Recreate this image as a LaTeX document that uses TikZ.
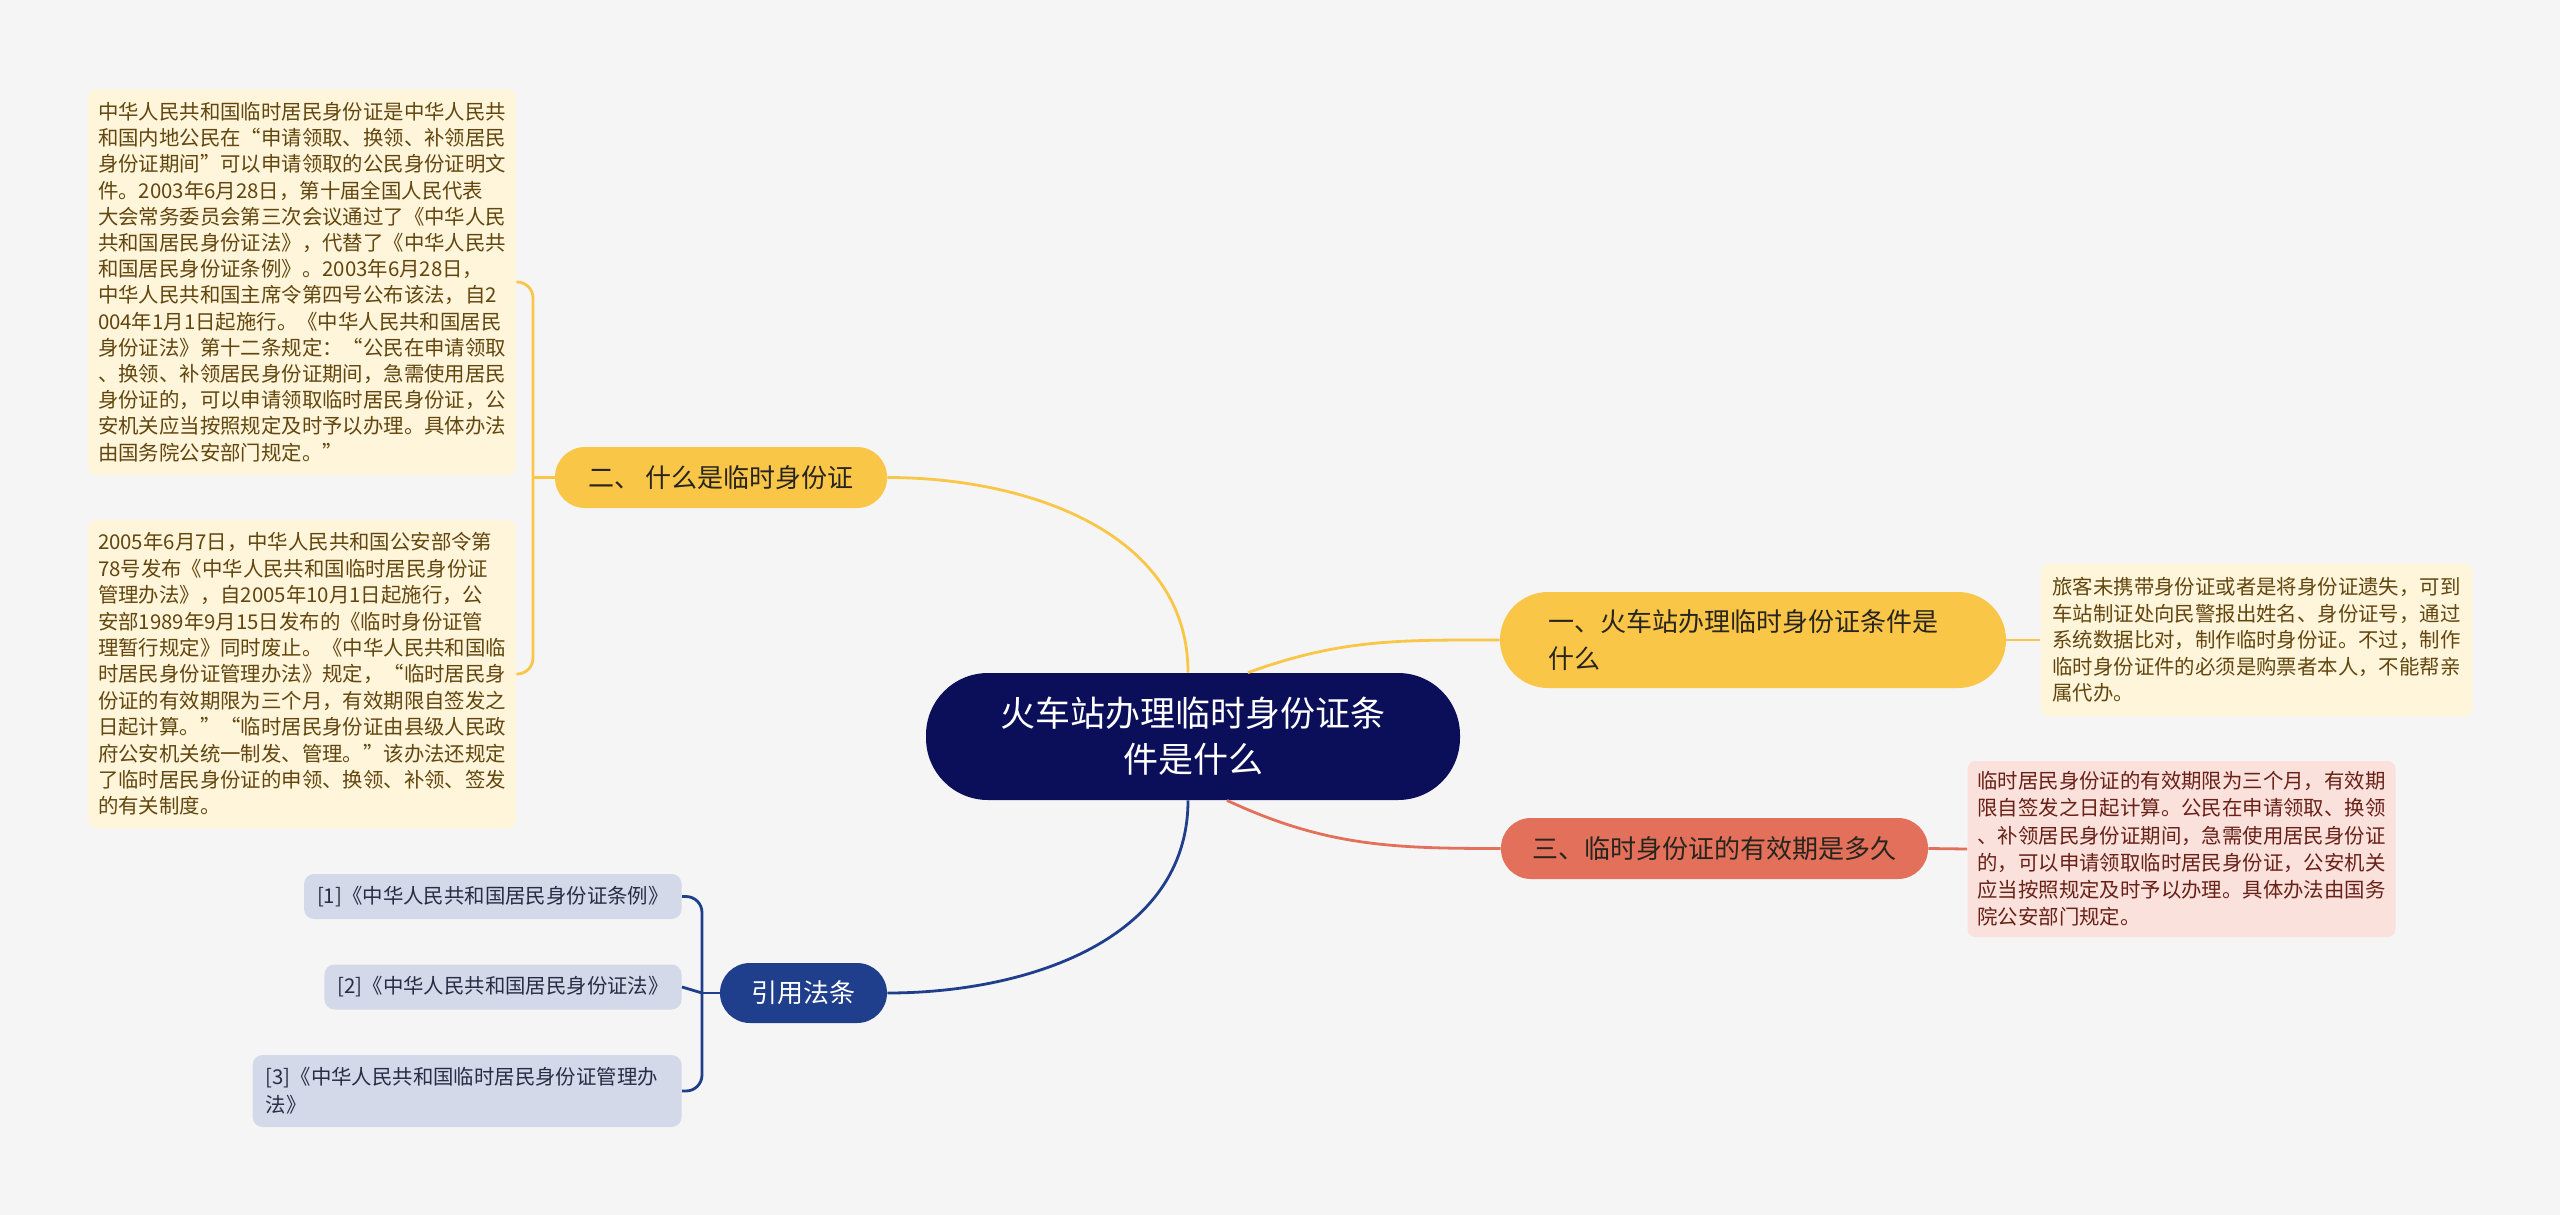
\documentclass[tikz,border=0pt]{standalone}
\usepackage{fontspec}
\newfontfamily\cjk{Noto Sans CJK SC}
\usepackage{tikz}
\definecolor{bggray}{RGB}{245,245,245}
\definecolor{rootnavy}{RGB}{11,15,90}
\definecolor{gold}{RGB}{249,198,72}
\definecolor{goldleaf}{RGB}{255,245,219}
\definecolor{goldtext}{RGB}{98,70,14}
\definecolor{coral}{RGB}{226,112,90}
\definecolor{coralleaf}{RGB}{250,225,220}
\definecolor{coraltext}{RGB}{105,32,22}
\definecolor{refblue}{RGB}{31,62,140}
\definecolor{refleaf}{RGB}{211,217,232}
\definecolor{reftext}{RGB}{40,45,70}
\definecolor{ink}{RGB}{40,36,30}

\begin{document}
\begin{tikzpicture}[
  x=0.5pt, y=-0.5pt,
  every node/.style={font=\cjk},
  topicbox/.style={fill=rootnavy, text=white, rounded corners=31pt, minimum width=267pt, minimum height=63.5pt, align=center, font=\cjk\fontsize{17.5}{23}\selectfont},
  branchbox/.style={rounded corners=15pt, minimum height=30.5pt, inner xsep=10pt, align=center, font=\cjk\fontsize{13}{18.5}\selectfont},
  notebox/.style={rounded corners=4pt, align=left, inner xsep=5pt, inner ysep=4pt, text width=204pt},
  refbox/.style={fill=refleaf, text=reftext, rounded corners=5pt, align=left, inner xsep=6.5pt, minimum height=22.5pt, anchor=east, font=\cjk\fontsize{10.2}{14}\selectfont},
  link/.style={line width=1.4pt}
]
  \useasboundingbox (0,0) rectangle (2560,1215);
  \fill[bggray] (0,0) rectangle (2560,1215);

  \node[topicbox] (topic) at (1193,736.5) {火车站办理临时身份证条\\件是什么};

  \node[branchbox, fill=gold, text=ink, minimum width=166pt] (what) at (721,477.5) {二、 什么是临时身份证};
  \node[branchbox, fill=gold, text=ink, minimum width=253pt, minimum height=48pt, rounded corners=24pt, text width=205pt, inner xsep=24pt, align=left] (cond) at (1753,640) {一、火车站办理临时身份证条件是\\什么};
  \node[branchbox, fill=coral, text=ink, minimum width=213.5pt] (valid) at (1714.5,848.5) {三、临时身份证的有效期是多久};
  \node[branchbox, fill=refblue, text=white, minimum width=83.5pt, minimum height=30pt] (refs) at (803.5,993) {引用法条};

  \node[notebox, fill=goldleaf, text=goldtext, minimum height=193pt, font=\cjk\fontsize{10.2}{13.1}\selectfont] (whatA) at (302,282) {中华人民共和国临时居民身份证是中华人民共\\和国内地公民在“申请领取、换领、补领居民\\身份证期间”可以申请领取的公民身份证明文\\件。2003年6月28日，第十届全国人民代表\\大会常务委员会第三次会议通过了《中华人民\\共和国居民身份证法》，代替了《中华人民共\\和国居民身份证条例》。2003年6月28日，\\中华人民共和国主席令第四号公布该法，自2\\004年1月1日起施行。《中华人民共和国居民\\身份证法》第十二条规定：“公民在申请领取\\、换领、补领居民身份证期间，急需使用居民\\身份证的，可以申请领取临时居民身份证，公\\安机关应当按照规定及时予以办理。具体办法\\由国务院公安部门规定。”};
  \node[notebox, fill=goldleaf, text=goldtext, minimum height=154pt, font=\cjk\fontsize{10.2}{13.2}\selectfont] (whatB) at (302,674) {2005年6月7日，中华人民共和国公安部令第\\78号发布《中华人民共和国临时居民身份证\\管理办法》，自2005年10月1日起施行，公\\安部1989年9月15日发布的《临时身份证管\\理暂行规定》同时废止。《中华人民共和国临\\时居民身份证管理办法》规定，“临时居民身\\份证的有效期限为三个月，有效期限自签发之\\日起计算。”“临时居民身份证由县级人民政\\府公安机关统一制发、管理。”该办法还规定\\了临时居民身份证的申领、换领、补领、签发\\的有关制度。};
  \node[notebox, fill=goldleaf, text=goldtext, inner xsep=6pt, minimum height=76pt, font=\cjk\fontsize{10.2}{13.25}\selectfont] (condA) at (2256.5,640) {旅客未携带身份证或者是将身份证遗失，可到\\车站制证处向民警报出姓名、身份证号，通过\\系统数据比对，制作临时身份证。不过，制作\\临时身份证件的必须是购票者本人，不能帮亲\\属代办。};
  \node[notebox, fill=coralleaf, text=coraltext, minimum height=88pt, font=\cjk\fontsize{10.2}{13.6}\selectfont] (validA) at (2181.5,849) {临时居民身份证的有效期限为三个月，有效期\\限自签发之日起计算。公民在申请领取、换领\\、补领居民身份证期间，急需使用居民身份证\\的，可以申请领取临时居民身份证，公安机关\\应当按照规定及时予以办理。具体办法由国务\\院公安部门规定。};

  \node[refbox] (refA) at (682,896.5) {[1]《中华人民共和国居民身份证条例》};
  \node[refbox] (refB) at (682,987) {[2]《中华人民共和国居民身份证法》};
  \node[refbox, text width=201.5pt, minimum height=36pt] (refC) at (682,1091) {[3]《中华人民共和国临时居民身份证管理办\\法》};

  % main branches
  \draw[link, draw=gold] ([xshift=-2.5pt]topic.north) to[out=90, in=0] (what.east);
  \draw[link, draw=gold] ([xshift=27.5pt]topic.north) to[out=20, in=180] (cond.west);
  \draw[link, draw=coral] ([xshift=17pt]topic.south) to[out=-25, in=180] (valid.west);
  \draw[link, draw=refblue] ([xshift=-2.5pt]topic.south) to[out=-90, in=0] (refs.east);

  % notes
  \draw[link, draw=gold] (cond.east) -- (condA.west);
  \draw[link, draw=coral] (valid.east) -- (validA.west);

  \coordinate (whatfork) at (533,477.5);
  \draw[link, draw=gold] (what.west) -- (whatfork);
  \draw[link, draw=gold, rounded corners=8pt] (whatfork) |- (whatA.east);
  \draw[link, draw=gold, rounded corners=8pt] (whatfork) |- (whatB.east);

  \coordinate (refsfork) at (702,993);
  \draw[link, draw=refblue] (refs.west) -- (refsfork);
  \draw[link, draw=refblue, rounded corners=8pt] (refsfork) |- (refA.east);
  \draw[link, draw=refblue] (refsfork) -- (refB.east);
  \draw[link, draw=refblue, rounded corners=8pt] (refsfork) |- (refC.east);
\end{tikzpicture}
\end{document}
